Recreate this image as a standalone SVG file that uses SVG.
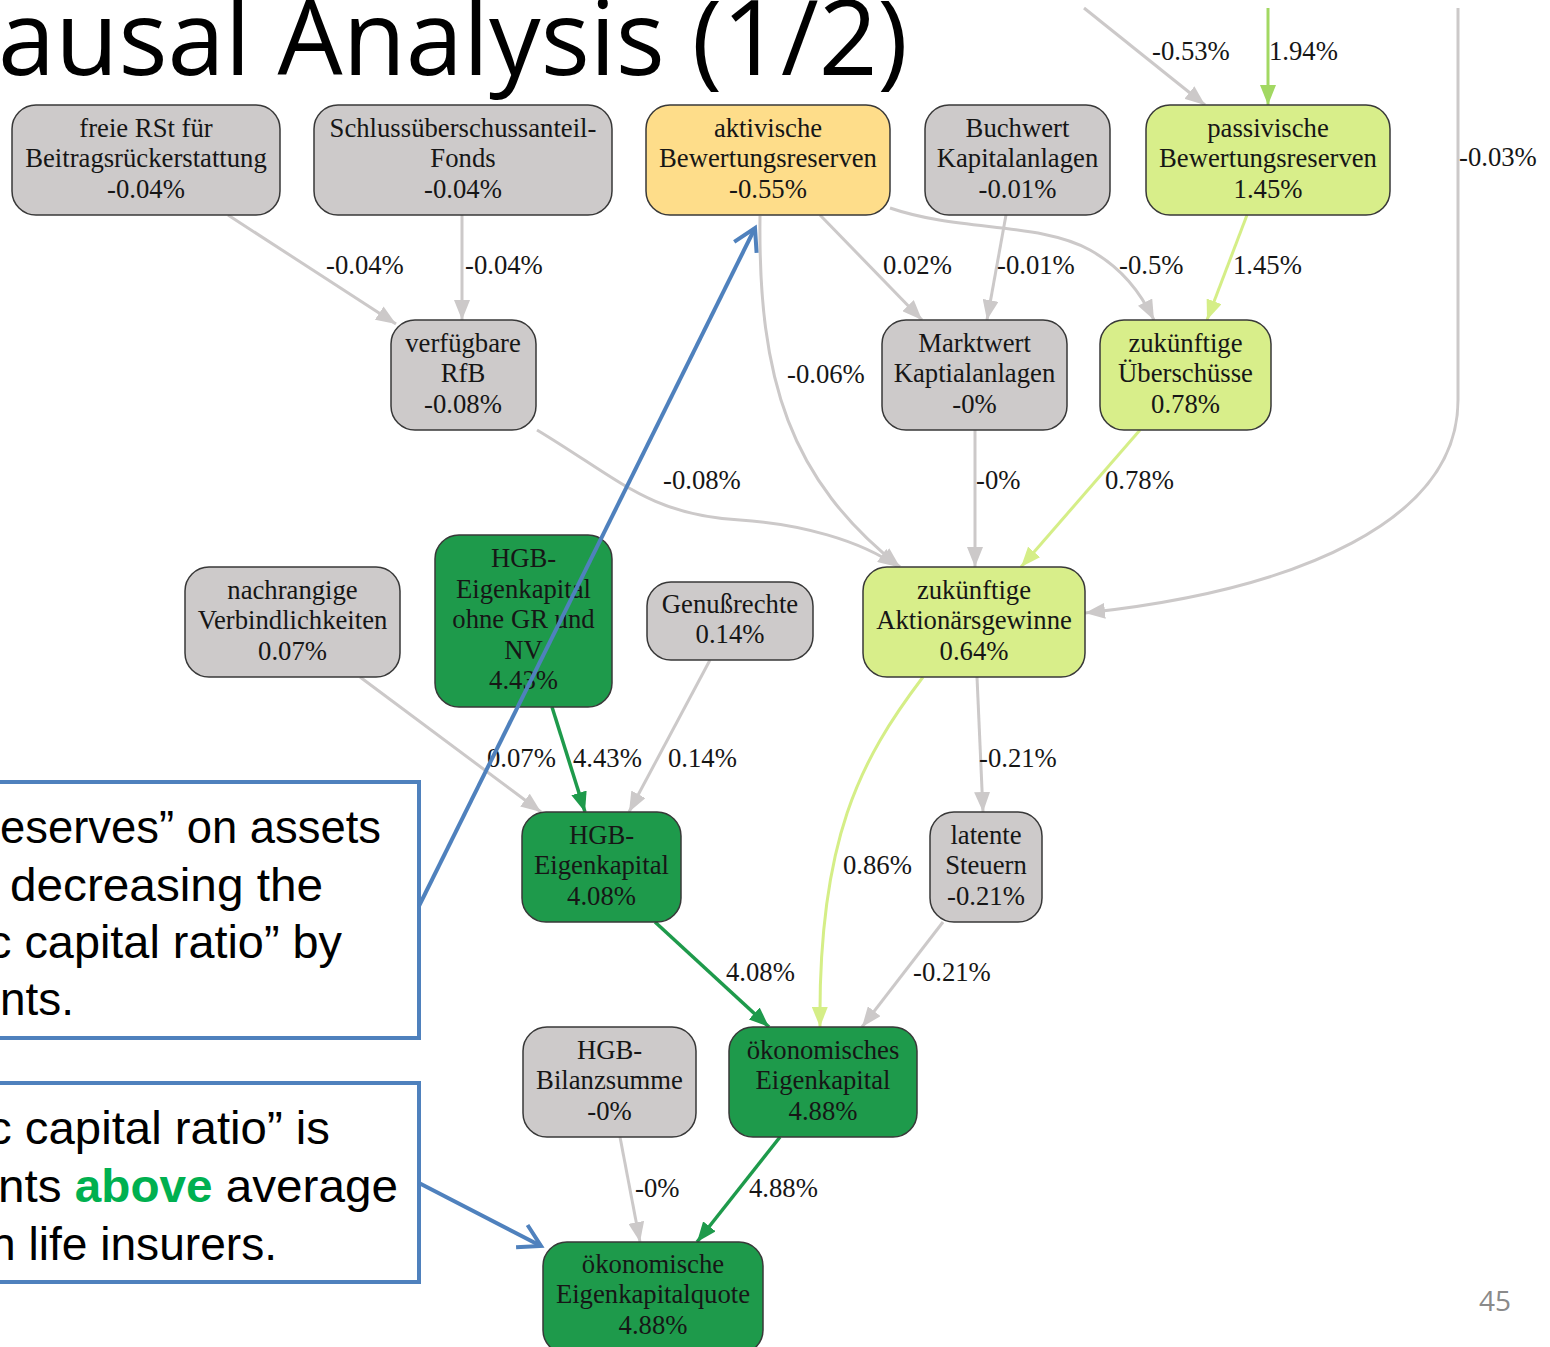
<svg xmlns="http://www.w3.org/2000/svg" width="1550" height="1347" viewBox="0 0 1550 1347">
<style>
.nd rect{stroke:#383838;stroke-width:1.5}
.g rect{fill:#cdcaca}
.y rect{fill:#fedd8a}
.l rect{fill:#d8ee8a}
.d rect{fill:#1e9a4b}
.nd text,.lbl text{font-family:"Liberation Serif","Times New Roman",serif;font-size:26.7px;fill:#161616}
.nd text{text-anchor:middle}
.e{fill:none;stroke-width:3}
.eg{stroke:#ccc9c9}
.el{stroke:#d5ee87}
.em{stroke:#a2d862}
.ed{stroke:#1e9a4b;stroke-width:3.5}
.blue{fill:none;stroke:#4f81bd;stroke-width:4}
.call{fill:#fff;stroke:#4f81bd;stroke-width:4}
.ct{font-family:"Liberation Sans",Arial,sans-serif;font-size:47px;fill:#000}
</style>
<defs>
<marker id="ag" markerUnits="userSpaceOnUse" viewBox="0 0 20 16" markerWidth="20" markerHeight="16" refX="20" refY="8" orient="auto"><path d="M0,0 L20,8 L0,16 z" fill="#ccc9c9"/></marker>
<marker id="al" markerUnits="userSpaceOnUse" viewBox="0 0 20 16" markerWidth="20" markerHeight="16" refX="20" refY="8" orient="auto"><path d="M0,0 L20,8 L0,16 z" fill="#d5ee87"/></marker>
<marker id="am" markerUnits="userSpaceOnUse" viewBox="0 0 20 16" markerWidth="20" markerHeight="16" refX="20" refY="8" orient="auto"><path d="M0,0 L20,8 L0,16 z" fill="#a2d862"/></marker>
<marker id="ad" markerUnits="userSpaceOnUse" viewBox="0 0 20 16" markerWidth="20" markerHeight="16" refX="20" refY="8" orient="auto"><path d="M0,0 L20,8 L0,16 z" fill="#1e9a4b"/></marker>
<marker id="bo" markerUnits="userSpaceOnUse" viewBox="-26 -16 30 32" markerWidth="30" markerHeight="32" refX="0" refY="0" orient="auto" overflow="visible"><path d="M-21.6,-12.5 L0,0 L-21.6,12.5" fill="none" stroke="#4f81bd" stroke-width="4"/></marker>
</defs>

<!-- slide title (cropped at the left) -->
<text x="-2" y="75" font-family="'Open Sans','Liberation Sans',sans-serif" font-size="104" textLength="910" lengthAdjust="spacingAndGlyphs" fill="#000">ausal Analysis (1/2)</text>

<!-- connectors -->
<g id="edges">
<path class="e eg" d="M228,215 L396,324" marker-end="url(#ag)"/>
<path class="e eg" d="M462,215 L462,320" marker-end="url(#ag)"/>
<path class="e eg" d="M820,215 L922,320" marker-end="url(#ag)"/>
<path class="e eg" d="M1006,215 L987,320" marker-end="url(#ag)"/>
<path class="e eg" d="M890,208 C960,232 1040,222 1090,250 C1122,268 1140,292 1154,320" marker-end="url(#ag)"/>
<path class="e el" d="M1247,215 L1207,320" marker-end="url(#al)"/>
<path class="e eg" d="M1084,8 L1205,105" marker-end="url(#ag)"/>
<path class="e em" d="M1268,8 L1268,105" marker-end="url(#am)"/>
<path class="e eg" d="M1458,8 L1458,400 C1458,520 1300,590 1085,613" marker-end="url(#ag)"/>
<path class="e eg" d="M760,216 C758,380 790,480 900,567" marker-end="url(#ag)"/>
<path class="e eg" d="M537,430 C620,480 650,515 740,520 C800,524 860,540 898,567" marker-end="url(#ag)"/>
<path class="e eg" d="M975,430 L975,567" marker-end="url(#ag)"/>
<path class="e el" d="M1140,430 L1021,567" marker-end="url(#al)"/>
<path class="e eg" d="M360,677 L541,812" marker-end="url(#ag)"/>
<path class="e ed" d="M552,707 L585,812" marker-end="url(#ad)"/>
<path class="e eg" d="M710,660 L629,812" marker-end="url(#ag)"/>
<path class="e el" d="M923,677 C860,760 818,840 820,1027" marker-end="url(#al)"/>
<path class="e eg" d="M977,677 L983,812" marker-end="url(#ag)"/>
<path class="e ed" d="M655,922 L769,1027" marker-end="url(#ad)"/>
<path class="e eg" d="M943,922 L862,1027" marker-end="url(#ag)"/>
<path class="e eg" d="M620,1137 L640,1242" marker-end="url(#ag)"/>
<path class="e ed" d="M780,1137 L697,1242" marker-end="url(#ad)"/>
</g>

<!-- connector labels -->
<g class="lbl">
<text x="326" y="274">-0.04%</text>
<text x="465" y="274">-0.04%</text>
<text x="883" y="274">0.02%</text>
<text x="997" y="274">-0.01%</text>
<text x="1119" y="274">-0.5%</text>
<text x="1233" y="274">1.45%</text>
<text x="1152" y="60">-0.53%</text>
<text x="1269" y="60">1.94%</text>
<text x="1459" y="166">-0.03%</text>
<text x="787" y="383">-0.06%</text>
<text x="663" y="489">-0.08%</text>
<text x="976" y="489">-0%</text>
<text x="1105" y="489">0.78%</text>
<text x="487" y="767">0.07%</text>
<text x="573" y="767">4.43%</text>
<text x="668" y="767">0.14%</text>
<text x="979" y="767">-0.21%</text>
<text x="843" y="874">0.86%</text>
<text x="726" y="981">4.08%</text>
<text x="913" y="981">-0.21%</text>
<text x="635" y="1197">-0%</text>
<text x="749" y="1197">4.88%</text>
</g>

<!-- nodes -->
<g id="n_freie_rst" class="nd g"><rect x="12" y="105" width="268" height="110" rx="24"/>
<text x="146" y="136.5">freie RSt für</text><text x="146" y="167">Beitragsrückerstattung</text><text x="146" y="197.5">-0.04%</text></g>
<g id="n_schluss" class="nd g"><rect x="314" y="105" width="298" height="110" rx="24"/>
<text x="463" y="136.5">Schlussüberschussanteil-</text><text x="463" y="167">Fonds</text><text x="463" y="197.5">-0.04%</text></g>
<g id="n_aktiv" class="nd y"><rect x="646" y="105" width="244" height="110" rx="24"/>
<text x="768" y="136.5">aktivische</text><text x="768" y="167">Bewertungsreserven</text><text x="768" y="197.5">-0.55%</text></g>
<g id="n_buchwert" class="nd g"><rect x="925" y="105" width="185" height="110" rx="24"/>
<text x="1017.5" y="136.5">Buchwert</text><text x="1017.5" y="167">Kapitalanlagen</text><text x="1017.5" y="197.5">-0.01%</text></g>
<g id="n_passiv" class="nd l"><rect x="1146" y="105" width="244" height="110" rx="24"/>
<text x="1268" y="136.5">passivische</text><text x="1268" y="167">Bewertungsreserven</text><text x="1268" y="197.5">1.45%</text></g>
<g id="n_rfb" class="nd g"><rect x="391" y="320" width="145" height="110" rx="24"/>
<text x="463" y="351.5">verfügbare</text><text x="463" y="382">RfB</text><text x="463" y="412.5">-0.08%</text></g>
<g id="n_marktwert" class="nd g"><rect x="882" y="320" width="185" height="110" rx="24"/>
<text x="974.5" y="351.5">Marktwert</text><text x="974.5" y="382">Kaptialanlagen</text><text x="974.5" y="412.5">-0%</text></g>
<g id="n_ueberschuesse" class="nd l"><rect x="1100" y="320" width="171" height="110" rx="24"/>
<text x="1185.5" y="351.5">zukünftige</text><text x="1185.5" y="382">Überschüsse</text><text x="1185.5" y="412.5">0.78%</text></g>
<g id="n_nachrangig" class="nd g"><rect x="185" y="567" width="215" height="110" rx="24"/>
<text x="292.5" y="598.5">nachrangige</text><text x="292.5" y="629">Verbindlichkeiten</text><text x="292.5" y="659.5">0.07%</text></g>
<g id="n_hgb_ek_ohne" class="nd d"><rect x="435" y="535" width="177" height="172" rx="24"/>
<text x="523.5" y="567">HGB-</text><text x="523.5" y="597.5">Eigenkapital</text><text x="523.5" y="628">ohne GR und</text><text x="523.5" y="658.5">NV</text><text x="523.5" y="689">4.43%</text></g>
<g id="n_genuss" class="nd g"><rect x="647" y="582" width="166" height="78" rx="24"/>
<text x="730" y="612.7">Genußrechte</text><text x="730" y="643.2">0.14%</text></g>
<g id="n_aktionaer" class="nd l"><rect x="863" y="567" width="222" height="110" rx="24"/>
<text x="974" y="598.5">zukünftige</text><text x="974" y="629">Aktionärsgewinne</text><text x="974" y="659.5">0.64%</text></g>
<g id="n_hgb_ek" class="nd d"><rect x="522" y="812" width="159" height="110" rx="24"/>
<text x="601.5" y="843.5">HGB-</text><text x="601.5" y="874">Eigenkapital</text><text x="601.5" y="904.5">4.08%</text></g>
<g id="n_latent" class="nd g"><rect x="930" y="812" width="112" height="110" rx="24"/>
<text x="986" y="843.5">latente</text><text x="986" y="874">Steuern</text><text x="986" y="904.5">-0.21%</text></g>
<g id="n_bilanz" class="nd g"><rect x="523" y="1027" width="173" height="110" rx="24"/>
<text x="609.5" y="1058.5">HGB-</text><text x="609.5" y="1089">Bilanzsumme</text><text x="609.5" y="1119.5">-0%</text></g>
<g id="n_oek_ek" class="nd d"><rect x="729" y="1027" width="188" height="110" rx="24"/>
<text x="823" y="1058.5">ökonomisches</text><text x="823" y="1089">Eigenkapital</text><text x="823" y="1119.5">4.88%</text></g>
<g id="n_oek_quote" class="nd d"><rect x="543" y="1242" width="220" height="112" rx="24"/>
<text x="653" y="1272.5">ökonomische</text><text x="653" y="1303">Eigenkapitalquote</text><text x="653" y="1333.5">4.88%</text></g>

<!-- callout boxes with pointers -->
<g id="callout1">
<rect class="call" x="-10" y="782" width="429" height="256"/>
<text class="ct" x="0" y="843" textLength="381" lengthAdjust="spacingAndGlyphs">eserves” on assets</text>
<text class="ct" x="10" y="901" textLength="313" lengthAdjust="spacingAndGlyphs">decreasing the</text>
<text class="ct" x="-12" y="958" textLength="354" lengthAdjust="spacingAndGlyphs">c capital ratio” by</text>
<text class="ct" x="0" y="1015" textLength="74" lengthAdjust="spacingAndGlyphs">nts.</text>
<path class="blue" d="M419,906 L755,228" marker-end="url(#bo)"/>
</g>
<g id="callout2">
<rect class="call" x="-10" y="1083" width="429" height="199"/>
<text class="ct" x="-12" y="1144" textLength="342" lengthAdjust="spacingAndGlyphs">c capital ratio” is</text>
<text class="ct" x="-2" y="1202" textLength="400" lengthAdjust="spacingAndGlyphs">nts <tspan fill="#00b050" font-weight="bold">above</tspan> average</text>
<text class="ct" x="-10" y="1260" textLength="287" lengthAdjust="spacingAndGlyphs">n life insurers.</text>
<path class="blue" d="M419,1183 L541,1246" marker-end="url(#bo)"/>
</g>

<!-- page number -->
<text x="1479" y="1311" font-family="'Open Sans','Liberation Sans',sans-serif" font-size="28" fill="#8a8a8a">45</text>
</svg>
